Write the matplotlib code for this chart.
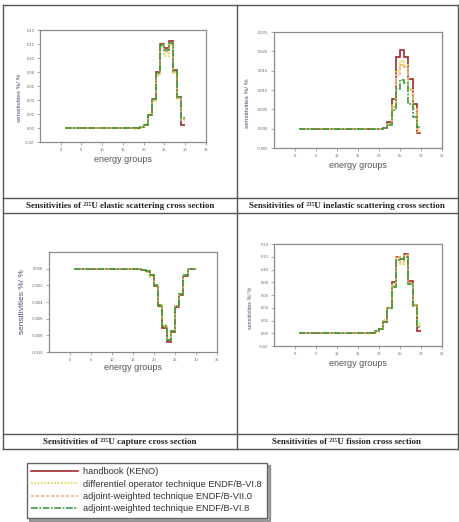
import numpy as np
import matplotlib.pyplot as plt
from matplotlib.lines import Line2D
from matplotlib.ticker import FormatStrFormatter

W, H = 460, 522

# group edges 1..30 (29 energy groups)
edges = np.arange(1, 31)

labels = ["handbook (KENO)",
          "differentiel operator technique ENDF/B-VI.8",
          "adjoint-weighted technique ENDF/B-VII.0",
          "adjoint-weighted technique ENDF/B-VI.8"]

captions = ["elastic scattering", "inelastic scattering", "capture", "fission"]

# elastic scattering
el_keno = [0.0] * 18 + [0.002, 0.005, 0.018, 0.042, 0.080, 0.120, 0.114, 0.124, 0.083, 0.044, 0.004]
el_diff = [0.0] * 17 + [-0.001, 0.001, 0.006, 0.020, 0.038, 0.075, 0.117, 0.103, 0.118, 0.078, 0.042, 0.013]
el_adj7 = [0.0] * 18 + [0.002, 0.005, 0.019, 0.040, 0.077, 0.119, 0.108, 0.121, 0.080, 0.043, 0.012]
el_adj6 = [0.0] * 18 + [0.002, 0.005, 0.018, 0.041, 0.079, 0.118, 0.112, 0.121, 0.082, 0.044, 0.015]

# inelastic scattering
in_keno = [0.0] * 20 + [0.0003, 0.0016, 0.0078, 0.0185, 0.0204, 0.0185, 0.0129, 0.0065, -0.0010]
in_diff = [0.0] * 20 + [0.0002, 0.0012, 0.0060, 0.0150, 0.0174, 0.0165, 0.0102, 0.0052, -0.0008]
in_adj7 = [0.0] * 20 + [0.0002, 0.0013, 0.0055, 0.0140, 0.0165, 0.0160, 0.0100, 0.0050, 0.0000]
in_adj6 = [0.0] * 20 + [0.0002, 0.0010, 0.0048, 0.0102, 0.0126, 0.0117, 0.0065, 0.0030, 0.0005]

# capture
ca_keno = [0.0] * 16 + [-0.0001, -0.0003, -0.0008, -0.0021, -0.0045, -0.0071, -0.0088, -0.0076, -0.0046, -0.0031, -0.0009, 0.0, 0.0]
ca_diff = [0.0] * 16 + [-0.0002, -0.0004, -0.0010, -0.0020, -0.0043, -0.0068, -0.0085, -0.0075, -0.0045, -0.0030, -0.0008, 0.0, 0.0]
ca_adj7 = [0.0] * 16 + [-0.0002, -0.0004, -0.0009, -0.0020, -0.0044, -0.0069, -0.0086, -0.0075, -0.0045, -0.0030, -0.0008, 0.0, 0.0]
ca_adj6 = [0.0] * 16 + [-0.0001, -0.0003, -0.0008, -0.0019, -0.0043, -0.0069, -0.0086, -0.0075, -0.0045, -0.0030, -0.0008, 0.0, 0.0]

# fission
fi_keno = [0.0] * 17 + [0.001, 0.003, 0.006, 0.018, 0.040, 0.080, 0.120, 0.117, 0.124, 0.082, 0.044, 0.004]
fi_diff = [0.0] * 16 + [-0.001, 0.000, 0.002, 0.007, 0.021, 0.038, 0.072, 0.118, 0.109, 0.120, 0.077, 0.045, 0.014]
fi_adj7 = [0.0] * 17 + [0.001, 0.003, 0.007, 0.020, 0.039, 0.075, 0.119, 0.112, 0.122, 0.079, 0.044, 0.012]
fi_adj6 = [0.0] * 17 + [0.001, 0.003, 0.006, 0.018, 0.040, 0.073, 0.115, 0.117, 0.120, 0.078, 0.042, 0.010]

styles = [dict(color='#a3282b', ls='-', lw=1.2),
          dict(color='#ddd040', ls=(0, (1, 1)), lw=1.2),
          dict(color='#f2b47c', ls=(0, (2, 1)), lw=1.2),
          dict(color='#3c9a3c', ls=(0, (4, 1, 1, 1)), lw=1.2)]

plt.rcParams['font.family'] = ['Liberation Sans', 'DejaVu Sans']
fig = plt.figure(figsize=(W / 100, H / 100), dpi=100)

# page frame / table lines drawn in pixel coordinates
bg = fig.add_axes([0, 0, 1, 1])
bg.set_xlim(0, W)
bg.set_ylim(H, 0)
bg.axis('off')
lc = '#555555'
for y in [5, 198, 213, 434, 449]:
    bg.plot([3, 458], [y, y], color=lc, lw=1.0)
for x in [3, 237, 458]:
    bg.plot([x, x], [5, 449], color=lc, lw=1.0)

cap_pos = [(120, 206), (347, 206), (120, 442), (347, 442)]
for (cx, cy), name in zip(cap_pos, captions):
    bg.text(cx, cy, f"Sensitivities of \u00b2\u00b3\u2075U {name} cross section",
            ha='center', va='center', fontsize=6.5, fontweight='bold',
            family=['Liberation Serif', 'DejaVu Serif'], color='#222222')


def panel(px, data, ylim, ystep, fmt, ylab_pos, ylab_size, xlab_pos):
    l, r, t, b = px
    ax = fig.add_axes([l / W, 1 - b / H, (r - l) / W, (b - t) / H])
    for vals, st in zip(data, styles):
        ax.stairs(vals, edges, baseline=None, **st)
    ax.set_xlim(-5, 35)
    ax.set_xticks(np.arange(0, 36, 5))
    ax.set_ylim(*ylim)
    ax.set_yticks(np.arange(ylim[0], ylim[1] + ystep / 2, ystep))
    ax.yaxis.set_major_formatter(FormatStrFormatter(fmt))
    ax.tick_params(labelsize=3, labelcolor='#666666', length=2, width=0.5,
                   color='#888888', pad=2)
    for s in ax.spines.values():
        s.set_color('#8a8a8a')
        s.set_linewidth(0.9)
    bg.text(ylab_pos[0], ylab_pos[1], "sensitivities %/ %", rotation=90,
            ha='center', va='center', fontsize=ylab_size, color='#5a4672')
    bg.text(xlab_pos[0], xlab_pos[1], "energy groups", ha='center', va='center',
            fontsize=6.5, color='#555555')
    return ax


panel((40, 206, 30, 142), [el_keno, el_diff, el_adj7, el_adj6], (-0.02, 0.14), 0.02,
      '%.2f', (20, 98), 4.5, (123, 160))
panel((274, 442, 32, 148), [in_keno, in_diff, in_adj7, in_adj6], (-0.005, 0.025), 0.005,
      '%.3f', (248, 103), 4.6, (358, 166))
ax3 = panel((49, 217, 252, 352), [ca_keno, ca_diff, ca_adj7, ca_adj6], (-0.010, 0.0018), 0.002,
            '%.3f', (23, 302), 6.0, (133, 368))
ax3.set_yticks(np.arange(-0.010, 0.0005, 0.002))
panel((274, 442, 244, 346), [fi_keno, fi_diff, fi_adj7, fi_adj6], (-0.02, 0.14), 0.02,
      '%.2f', (251, 308), 3.9, (358, 363))

# legend box under the table
handles = [Line2D([], [], **st) for st in styles]
fig.legend(handles, labels, loc='upper left', bbox_to_anchor=(22 / W, 1 - 458 / H),
           fontsize=6.7, frameon=True, fancybox=False, shadow=True, edgecolor='#666666',
           handlelength=5.0, handletextpad=0.6, borderpad=0.5, labelspacing=0.35,
           labelcolor='#333333')

fig.savefig('out.png', dpi=100)
